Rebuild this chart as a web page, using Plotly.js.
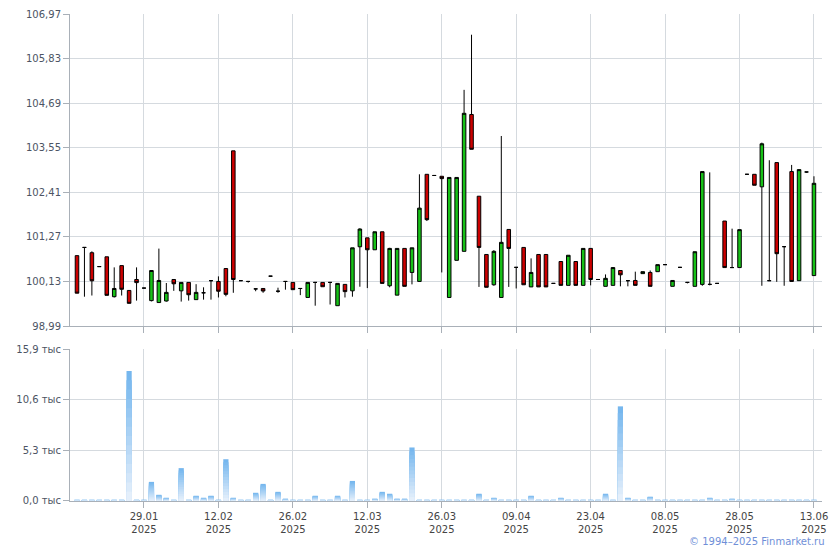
<!DOCTYPE html>
<html><head><meta charset="utf-8">
<script src="https://cdn.plot.ly/plotly-3.0.1.min.js"></script>
<style>html,body{margin:0;padding:0;background:#fff}#chart{width:840px;height:550px}</style>
</head><body><div id="chart"></div>
<script>
// Trading-day slots (index 0 = first trading day shown)
const tickIdx = [9, 19, 29, 39, 49, 59, 69, 79, 89, 99];
const tickDates = ['29.01', '12.02', '26.02', '12.03', '26.03', '09.04', '23.04', '08.05', '28.05', '13.06'];
const tickYear = '2025';

const priceTicks = [98.99, 100.13, 101.27, 102.41, 103.55, 104.69, 105.83, 106.97];
const priceTickText = ['98,99', '100,13', '101,27', '102,41', '103,55', '104,69', '105,83', '106,97'];
const volTicks = [0, 5.3, 10.6, 15.9];
const volTickText = ['0,0 тыс', '5,3 тыс', '10,6 тыс', '15,9 тыс'];

const openP = [
 100.79, 101.00, 100.865, 100.51, 100.76, 99.74, 100.535, 99.90, 100.18, 99.96,
 99.64, 99.59, 99.63, 100.18, 99.89, 100.105, 99.665, 99.84, 100.15, 100.13,
 100.46, 103.47, 100.15, 100.13, 99.94, 99.95, 100.265, 99.88, 100.13, 100.105,
 99.95, 99.72, 100.105, 100.105, 100.105, 99.51, 100.055, 99.89, 101.017, 101.245,
 100.94, 101.40, 100.02, 99.78, 100.975, 100.36, 100.13, 102.87, 102.84, 102.82,
 99.72, 100.67, 100.90, 104.40, 102.31, 100.82, 100.045, 99.72, 101.46, 100.49,
 101.00, 99.99, 100.82, 100.82, 100.08, 100.64, 100.03, 100.64, 100.03, 100.975,
 100.18, 100.005, 100.03, 100.41, 100.15, 100.155, 100.33, 100.36, 100.38, 100.56,
 100.005, 100.49, 100.105, 100.005, 100.055, 100.055, 100.08, 101.675, 100.485, 100.485,
 102.87, 102.87, 102.55, 100.15, 103.17, 101.02, 102.94, 100.15, 102.93, 100.28
];
const highP = [
 100.79, 101.00, 100.90, 100.51, 100.76, 100.49, 100.535, 99.90, 100.49, 99.96,
 100.41, 100.97, 100.09, 100.18, 100.105, 100.105, 100.06, 99.98, 100.15, 100.26,
 100.46, 103.47, 100.15, 100.13, 99.94, 99.95, 100.265, 99.97, 100.13, 100.105,
 99.95, 100.105, 100.105, 100.105, 100.105, 100.08, 100.055, 100.99, 101.49, 101.245,
 101.40, 101.40, 100.99, 100.975, 100.975, 100.99, 102.87, 102.87, 102.84, 102.82,
 102.79, 102.79, 105.03, 106.44, 102.31, 100.82, 100.93, 103.85, 101.46, 100.49,
 101.00, 100.72, 100.82, 100.82, 100.08, 100.64, 100.80, 100.64, 100.975, 100.975,
 100.18, 100.31, 100.485, 100.41, 100.15, 100.38, 100.38, 100.41, 100.56, 100.56,
 100.155, 100.49, 100.105, 100.89, 102.94, 102.92, 100.08, 101.675, 101.48, 101.455,
 102.87, 102.87, 103.68, 103.23, 103.17, 101.02, 103.11, 102.99, 102.93, 102.82
];
const lowP = [
 99.83, 99.74, 99.77, 100.51, 99.775, 99.72, 99.77, 99.57, 99.64, 99.96,
 99.62, 99.59, 99.615, 99.89, 99.615, 99.64, 99.665, 99.665, 99.665, 99.72,
 99.75, 99.84, 100.15, 100.10, 99.88, 99.84, 100.265, 99.84, 99.92, 99.92,
 99.78, 99.72, 99.51, 99.995, 99.54, 99.51, 99.72, 99.74, 99.995, 99.96,
 100.94, 100.08, 99.98, 99.78, 100.005, 100.055, 100.13, 101.675, 102.84, 100.36,
 99.72, 100.67, 100.90, 103.51, 99.99, 99.98, 100.02, 99.72, 99.99, 99.95,
 100.045, 99.99, 99.99, 99.99, 100.08, 100.03, 100.03, 100.03, 100.03, 100.03,
 100.18, 100.005, 100.03, 100.005, 100.005, 100.03, 100.33, 100.005, 100.38, 100.56,
 100.005, 100.49, 100.08, 100.005, 100.02, 100.03, 100.08, 100.485, 100.485, 100.485,
 102.87, 102.59, 100.02, 100.14, 100.12, 100.02, 100.13, 100.15, 102.91, 100.28
];
const closeP = [
 99.83, 101.00, 100.147, 100.51, 99.775, 99.95, 99.93, 99.57, 100.10, 99.96,
 100.41, 100.155, 99.85, 100.07, 100.105, 99.79, 99.85, 99.84, 100.15, 99.88,
 99.80, 100.18, 100.15, 100.13, 99.94, 99.885, 100.265, 99.88, 100.13, 99.92,
 99.95, 100.105, 100.105, 99.995, 100.105, 100.08, 99.87, 100.99, 101.47, 100.94,
 101.40, 100.08, 100.975, 100.975, 100.005, 100.99, 102.005, 101.71, 102.84, 102.76,
 102.79, 102.79, 104.43, 103.51, 101.00, 99.98, 100.90, 101.13, 100.975, 100.49,
 100.045, 100.36, 99.99, 99.99, 100.08, 100.03, 100.80, 100.03, 100.975, 100.18,
 100.18, 100.21, 100.485, 100.30, 100.15, 100.03, 100.38, 100.005, 100.56, 100.56,
 100.155, 100.49, 100.105, 100.89, 102.94, 100.055, 100.08, 100.485, 100.485, 101.455,
 102.87, 102.59, 103.65, 100.15, 100.84, 101.02, 100.13, 102.99, 102.93, 102.64
];
// Volume, thousands
const volume = [
 0.13, 0.13, 0.13, 0.13, 0.13, 0.13, 0.13, 13.6, 0.13, 0.13,
 2.0, 0.65, 0.34, 0.13, 3.44, 0.13, 0.55, 0.34, 0.55, 0.13,
 4.37, 0.34, 0.13, 0.13, 0.86, 1.79, 0.13, 0.96, 0.24, 0.13,
 0.13, 0.13, 0.55, 0.13, 0.13, 0.55, 0.13, 2.1, 0.13, 0.13,
 0.24, 0.96, 0.76, 0.24, 0.24, 5.6, 0.13, 0.13, 0.13, 0.13,
 0.13, 0.13, 0.13, 0.13, 0.76, 0.13, 0.34, 0.13, 0.13, 0.13,
 0.13, 0.55, 0.13, 0.13, 0.13, 0.34, 0.13, 0.13, 0.13, 0.13,
 0.13, 0.76, 0.13, 9.9, 0.34, 0.13, 0.13, 0.45, 0.13, 0.13,
 0.13, 0.13, 0.13, 0.13, 0.13, 0.34, 0.13, 0.13, 0.24, 0.13,
 0.13, 0.13, 0.13, 0.13, 0.13, 0.13, 0.13, 0.13, 0.13, 0.13
];

const xIdx = openP.map((_, i) => i);
const tickText = tickDates.map(d => d + '<br>' + tickYear);

const traces = [{
  type: 'candlestick', x: xIdx, open: openP, high: highP, low: lowP, close: closeP,
  xaxis: 'x', yaxis: 'y', hoverinfo: 'skip', whiskerwidth: 0,
  increasing: {fillcolor: '#17c117', line: {color: '#000', width: 1}},
  decreasing: {fillcolor: '#cc0000', line: {color: '#000', width: 1}}
}];

// vertical gradient for volume bars: overlaid layers, darker on top
const nLayers = 14, colTop = [118, 183, 238], colBot = [228, 239, 251];
for (let k = 0; k < nLayers; k++) {
  const t = k / (nLayers - 1);
  const c = colTop.map((v, j) => Math.round(v + (colBot[j] - v) * t));
  traces.push({
    type: 'bar', x: xIdx, y: volume.map(v => v * (1 - k / nLayers)),
    xaxis: 'x2', yaxis: 'y2', width: 0.7, hoverinfo: 'skip',
    marker: {color: 'rgb(' + c.join(',') + ')', line: {width: 0}}
  });
}

const axCommon = {
  range: [-0.94, 100.08], tickmode: 'array', tickvals: tickIdx, ticktext: tickText,
  ticks: 'outside', ticklen: 6, tickcolor: '#a9b0b8', showgrid: true, gridcolor: '#d5dadf',
  showline: true, linecolor: '#a9b0b8', zeroline: false, fixedrange: true,
  tickfont: {family: 'DejaVu Sans, Verdana, sans-serif', size: 10, color: '#444'}
};
const yCommon = {
  tickmode: 'array', ticks: 'outside', ticklen: 6, tickcolor: '#a9b0b8',
  showgrid: true, gridcolor: '#d5dadf', showline: true, linecolor: '#a9b0b8',
  zeroline: false, fixedrange: true,
  tickfont: {family: 'DejaVu Sans, Verdana, sans-serif', size: 10, color: '#4c5464'}
};

const layout = {
  width: 840, height: 550,
  margin: {l: 70, r: 18, t: 14, b: 49},
  paper_bgcolor: '#fff', plot_bgcolor: '#fff', showlegend: false,
  barmode: 'overlay', boxgap: 0.32,
  font: {family: 'DejaVu Sans, Verdana, sans-serif', size: 10, color: '#444'},
  xaxis: Object.assign({}, axCommon, {anchor: 'y', showticklabels: false, rangeslider: {visible: false}}),
  yaxis: Object.assign({}, yCommon, {domain: [0.3593, 1], range: [98.99, 106.97], tickvals: priceTicks, ticktext: priceTickText}),
  xaxis2: Object.assign({}, axCommon, {anchor: 'y2', showticklabels: true}),
  yaxis2: Object.assign({}, yCommon, {domain: [0, 0.3121], range: [0, 15.9], tickvals: volTicks, ticktext: volTickText}),
  annotations: [{
    text: '© 1994–2025 Finmarket.ru', xref: 'paper', yref: 'paper', x: 1.006, y: -0.084,
    xanchor: 'right', yanchor: 'middle', showarrow: false,
    font: {family: 'DejaVu Sans, Verdana, sans-serif', size: 10, color: '#6f8fd8'}
  }]
};

Plotly.newPlot('chart', traces, layout, {displayModeBar: false, staticPlot: true});
</script>
</body></html>
